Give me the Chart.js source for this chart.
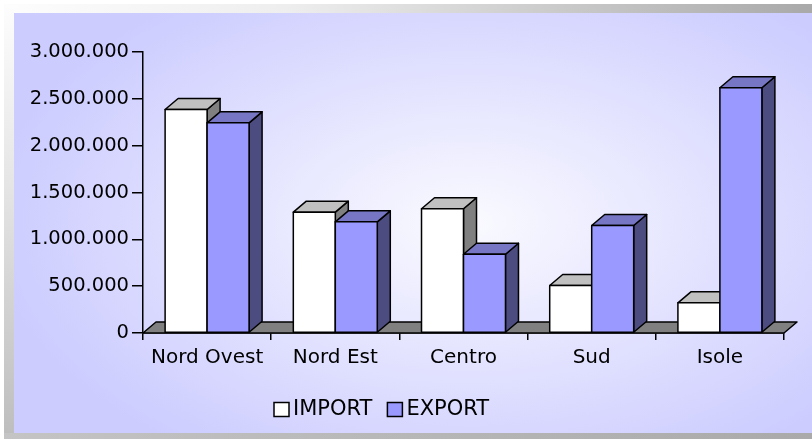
<!DOCTYPE html>
<html>
<head>
<meta charset="utf-8">
<script src="https://cdn.jsdelivr.net/npm/chart.js@4"></script>
<style>
  body { margin: 0; background: #fff; }
  #frame { position: relative; width: 812px; height: 439px; overflow: hidden; }
  .band { position: absolute; }
  #topBand { left: 4px; top: 4px; width: 808px; height: 9px; background: linear-gradient(to right, #fdfdfd 0%, #eeeeee 35%, #a9a9a9 100%); }
  #leftBand { left: 4px; top: 4px; width: 10px; height: 435px; background: linear-gradient(to bottom, #fdfdfd 0%, #e6e6e6 40%, #bdbdbd 100%); }
  #bottomBand { left: 4px; top: 433px; width: 808px; height: 6px; background: linear-gradient(to right, #c4c4c4, #aaaaaa); }
  #panel { left: 14px; top: 13px; width: 798px; height: 420px;
    background: radial-gradient(ellipse 60% 66% at 57% 50%, #fafaff 0%, #e4e4ff 48%, #ccccff 100%); }
  #chart { position: absolute; left: 0; top: 0; }
</style>
</head>
<body>
<div id="frame">
  <div class="band" id="topBand"></div>
  <div class="band" id="leftBand"></div>
  <div class="band" id="bottomBand"></div>
  <div class="band" id="panel"></div>
  <canvas id="chart" width="812" height="439"></canvas>
</div>
<script>
const categories = ['Nord Ovest', 'Nord Est', 'Centro', 'Sud', 'Isole'];
const importValues = [2386000, 1290000, 1326000, 507000, 322000];
const exportValues = [2244000, 1187000, 841000, 1148000, 2618000];
const yMax = 3000000;
const yStep = 500000;

// front, top, side colours of each series
const importColors = ['#ffffff', '#c0c0c0', '#808080'];
const exportColors = ['#9999ff', '#7676c4', '#4c4c80'];

const depthX = 13;
const depthY = -11;
const fontFamily = "'DejaVu Sans', sans-serif";

Chart.defaults.font.family = fontFamily;
Chart.defaults.color = '#000';

function formatIt(v) {
  return String(v).replace(/\B(?=(\d{3})+(?!\d))/g, '.');
}

function poly(ctx, pts, fill) {
  ctx.beginPath();
  ctx.moveTo(pts[0][0], pts[0][1]);
  for (let i = 1; i < pts.length; i++) ctx.lineTo(pts[i][0], pts[i][1]);
  ctx.closePath();
  ctx.fillStyle = fill;
  ctx.fill();
  ctx.stroke();
}

const bars3d = {
  id: 'bars3d',
  beforeDatasetsDraw(chart) {
    const ctx = chart.ctx;
    const { left, right } = chart.chartArea;
    const y0 = chart.scales.y.getPixelForValue(0);
    ctx.save();
    ctx.strokeStyle = '#000';
    ctx.lineWidth = 1.5;
    ctx.lineJoin = 'round';
    // floor
    poly(ctx, [[left, y0], [left + depthX, y0 + depthY], [right + depthX, y0 + depthY], [right, y0]], '#808080');
    // bars, category by category so the second series overlaps the first
    for (let i = 0; i < categories.length; i++) {
      chart.data.datasets.forEach((ds, d) => {
        const el = chart.getDatasetMeta(d).data[i];
        const { x, y, base, width } = el.getProps(['x', 'y', 'base', 'width'], true);
        const l = x - width / 2;
        const r = x + width / 2;
        const c = ds.faceColors;
        poly(ctx, [[r, y], [r + depthX, y + depthY], [r + depthX, base + depthY], [r, base]], c[2]);
        poly(ctx, [[l, y], [l + depthX, y + depthY], [r + depthX, y + depthY], [r, y]], c[1]);
        poly(ctx, [[l, y], [r, y], [r, base], [l, base]], c[0]);
      });
    }
    ctx.restore();
    return false;
  },
  afterDraw(chart) {
    // legend
    const ctx = chart.ctx;
    ctx.save();
    ctx.font = '21px ' + fontFamily;
    ctx.textBaseline = 'middle';
    ctx.lineWidth = 1.5;
    ctx.strokeStyle = '#000';
    let x = 274;
    const yc = 409.5;
    chart.data.datasets.forEach((ds) => {
      ctx.fillStyle = ds.faceColors[0];
      ctx.fillRect(x, yc - 7, 15, 14);
      ctx.strokeRect(x, yc - 7, 15, 14);
      ctx.fillStyle = '#000';
      ctx.fillText(ds.label, x + 19, yc);
      x += 19 + ctx.measureText(ds.label).width + 15;
    });
    ctx.restore();
  },
};

new Chart(document.getElementById('chart'), {
  type: 'bar',
  data: {
    labels: categories,
    datasets: [
      { label: 'IMPORT', data: importValues, backgroundColor: importColors[0], faceColors: importColors },
      { label: 'EXPORT', data: exportValues, backgroundColor: exportColors[0], faceColors: exportColors },
    ],
  },
  options: {
    responsive: false,
    animation: false,
    categoryPercentage: 0.655,
    barPercentage: 1,
    layout: { padding: { left: 0, top: 52, right: 28, bottom: 56 } },
    plugins: { legend: { display: false }, tooltip: { enabled: false } },
    scales: {
      x: {
        offset: true,
        grid: { offset: true, drawOnChartArea: false, drawTicks: true, tickLength: 7, color: '#000', lineWidth: 1.5 },
        border: { display: true, color: '#000', width: 1.5 },
        ticks: { padding: 6, maxRotation: 0, autoSkip: false, font: { size: 20 } },
        afterFit(scale) { scale.height = 50; },
      },
      y: {
        min: 0,
        max: yMax,
        grid: { drawOnChartArea: false, drawTicks: true, tickLength: 11, color: '#000', lineWidth: 1.5 },
        border: { display: true, color: '#000', width: 1.5 },
        ticks: { stepSize: yStep, padding: 3, font: { size: 19.5 }, callback: (v) => formatIt(v) },
        afterFit(scale) { scale.width = 143; },
      },
    },
  },
  plugins: [bars3d],
});
</script>
</body>
</html>
